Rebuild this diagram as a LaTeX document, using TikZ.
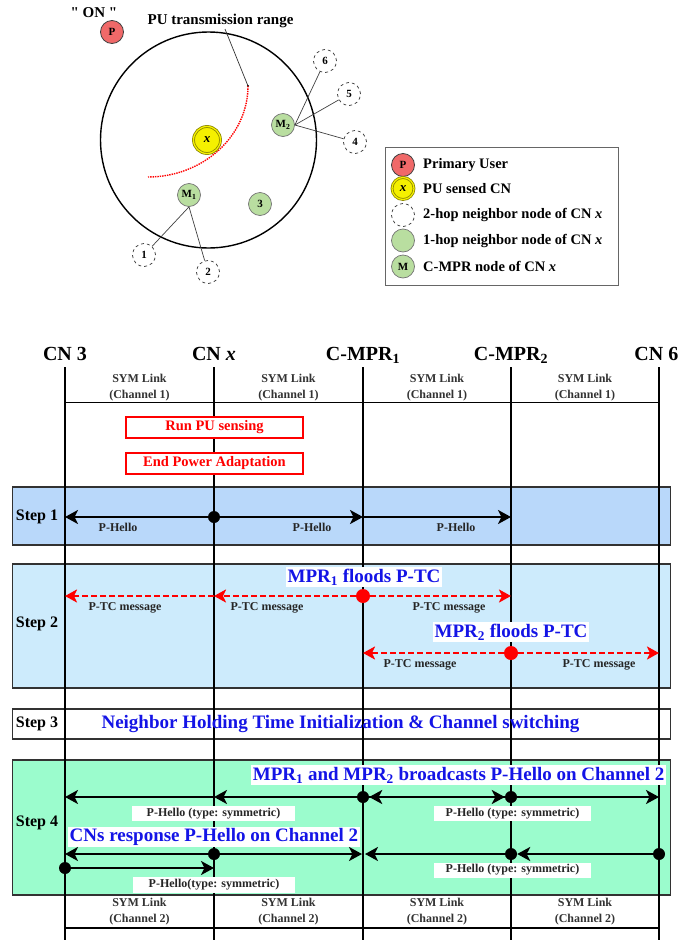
\documentclass[tikz,border=0pt]{standalone}
\usepackage{fontspec}
\setmainfont{Liberation Serif}
\newfontfamily\rawserif[Ligatures=TeXOff]{Liberation Serif}
\usetikzlibrary{arrows.meta}
\definecolor{pured}{RGB}{240,105,105}
\definecolor{puyel}{RGB}{245,240,0}
\definecolor{puolive}{RGB}{140,135,0}
\definecolor{nbgreen}{RGB}{185,222,160}
\definecolor{stepa}{RGB}{185,216,250}
\definecolor{stepb}{RGB}{205,235,252}
\definecolor{stepd}{RGB}{155,252,205}
\definecolor{txtblue}{RGB}{20,20,230}
\definecolor{boxgray}{RGB}{50,50,50}
\tikzset{
  lbl/.style={font=\fontsize{#1}{#1}\selectfont\bfseries, inner sep=0pt},
  pnode/.style={circle, draw=black!75, line width=0.8pt, fill=pured, minimum size=23pt, inner sep=0pt, lbl=11},
  xnode/.style={circle, draw=puolive, double=puyel, double distance=1.2pt, line width=0.8pt, fill=puyel, minimum size=27pt, inner sep=0pt, font=\fontsize{13}{13}\selectfont\bfseries\itshape},
  gnode/.style={circle, draw=black!55, line width=0.7pt, fill=nbgreen, minimum size=23pt, inner sep=0pt, lbl=11},
  hnode/.style={circle, draw=black!80, dashed, line width=0.7pt, fill=white, minimum size=23pt, inner sep=0pt, lbl=11},
  edge/.style={draw=black!75, line width=0.7pt},
  legtxt/.style={lbl=14.5, anchor=west},
  hdr/.style={lbl=20, anchor=base},
  symtxt/.style={font=\fontsize{12}{16}\selectfont\bfseries, align=center, text=black!80, inner sep=0pt},
  redbox/.style={draw=red, line width=1.2pt, fill=white, minimum width=177pt, minimum height=21pt, text=red, lbl=14.5},
  stepbox/.style={draw=boxgray, line width=1.3pt, minimum width=658pt, inner sep=0pt},
  steptxt/.style={lbl=16},
  life/.style={draw=black, line width=1.2pt},
  msg/.style={lbl=12, text=black!85},
  bluetxt/.style={lbl=19, text=txtblue, fill=white, inner sep=1.5pt},
  wlbl/.style={lbl=12, text=black!85, fill=white, minimum height=15pt},
  bdot/.style={circle, fill=black, minimum size=12pt, inner sep=0pt},
  rdot/.style={circle, fill=red, minimum size=14pt, inner sep=0pt},
  harrow/.style={draw=black, line width=2.7pt, -{Stealth[length=13pt,width=14pt,inset=3.5pt]}},
  rarrow/.style={draw=red, line width=2.4pt, dash pattern=on 6pt off 3pt, -{Stealth[length=12pt,width=13pt,inset=3pt]}},
}
\begin{document}
\begin{tikzpicture}[x=1pt,y=-1pt]
\useasboundingbox (0,0) rectangle (679,940);
% ---------------- top scene ----------------
\node[circle, draw=black, line width=1.4pt, minimum size=216pt, inner sep=0pt] (range) at (208.5,140) {};
\node[lbl=15, font=\fontsize{15}{15}\selectfont\rawserif\bfseries] (on) at (94,13) {" ON "};
\node[pnode] (P) at (112,32) {P};
\node[lbl=15] (pulbl) at (220.5,21) {PU transmission range};
\coordinate (pulblA) at (225,29);
\coordinate (arcS) at (248,86);
\coordinate (arcE) at (148,177);
\draw[black!80, line width=0.7pt] (pulblA) -- (arcS);
\fill (arcS) circle (1.2pt);
\draw[red, densely dotted, line width=1.4pt] (arcS) .. controls (248,136) and (203,177) .. (arcE);
\node[xnode] (X) at (207,140) {x};
\node[gnode] (M2) at (283,125) {M\textsubscript{2}};
\node[gnode] (M1) at (189,195) {M\textsubscript{1}};
\node[gnode] (n3) at (260,204) {3};
\node[hnode] (n6) at (325,61) {6};
\node[hnode] (n5) at (349,94) {5};
\node[hnode] (n4) at (355,142) {4};
\node[hnode] (n1) at (144,255) {1};
\node[hnode] (n2) at (208,272) {2};
\draw[edge] (M2.east) -- (n6);
\draw[edge] (M2.east) -- (n5);
\draw[edge] (M2.east) -- (n4);
\draw[edge] (M1.south) -- (n1);
\draw[edge] (M1.south) -- (n2);
% legend
\node[draw=black!60, line width=1pt, minimum width=233pt, minimum height=138pt, inner sep=0pt] (leg) at (501.5,216) {};
\node[pnode] (lP) at (403,165) {P};
\node[xnode, minimum size=22pt] (lX) at (403,188.5) {x};
\node[hnode] (lH) at (403,215) {};
\node[gnode] (lG) at (403,240.5) {};
\node[gnode] (lM) at (403,266.5) {M};
\node[legtxt] (tP) at (423,165) {Primary User};
\node[legtxt] (tX) at (423,188.5) {PU sensed CN};
\node[legtxt] (tH) at (423,215) {2-hop neighbor node of CN \textit{x}};
\node[legtxt] (tG) at (423,240.5) {1-hop neighbor node of CN \textit{x}};
\node[legtxt] (tM) at (423,266.5) {C-MPR node of CN \textit{x}};
% ---------------- step boxes ----------------
\node[stepbox, fill=stepa, minimum height=58pt] (s1) at (341.7,516) {};
\node[stepbox, fill=stepb, minimum height=124pt] (s2) at (341.7,626) {};
\node[stepbox, fill=white, minimum height=30pt] (s3) at (341.7,724) {};
\node[stepbox, fill=stepd, minimum height=135pt] (s4) at (341.7,827.5) {};
% ---------------- lifelines ----------------
\coordinate (t1) at (65,367);  \coordinate (b1) at (65,940);
\coordinate (t2) at (214,367); \coordinate (b2) at (214,940);
\coordinate (t3) at (363,367); \coordinate (b3) at (363,940);
\coordinate (t4) at (511,367); \coordinate (b4) at (511,940);
\coordinate (t5) at (659,367); \coordinate (b5) at (659,940);
\foreach \i in {1,...,5} { \draw[life] (t\i) -- (b\i); }
\coordinate (hl1) at (65,402.7); \coordinate (hl5) at (659,402.7);
\draw[life] (hl1) -- (hl5);
\coordinate (bl1) at (65,928); \coordinate (bl5) at (659,928);
\draw[life] (bl1) -- (bl5);
% headers
\node[hdr] (h1) at (65,360) {CN 3};
\node[hdr] (h2) at (214,360) {CN \textit{x}};
\node[hdr] (h3) at (363,360) {C-MPR\textsubscript{1}};
\node[hdr] (h4) at (511,360) {C-MPR\textsubscript{2}};
\node[hdr, anchor=base east] (h5) at (678.5,360) {CN 6};
\node[symtxt] (sa1) at (139.5,388) {SYM Link\\(Channel 1)};
\node[symtxt] (sa2) at (288.5,388) {SYM Link\\(Channel 1)};
\node[symtxt] (sa3) at (437,388) {SYM Link\\(Channel 1)};
\node[symtxt] (sa4) at (585,388) {SYM Link\\(Channel 1)};
\node[symtxt] (sb1) at (139.5,912) {SYM Link\\(Channel 2)};
\node[symtxt] (sb2) at (288.5,912) {SYM Link\\(Channel 2)};
\node[symtxt] (sb3) at (437,912) {SYM Link\\(Channel 2)};
\node[symtxt] (sb4) at (585,912) {SYM Link\\(Channel 2)};
% red boxes
\node[redbox] (run) at (214.5,427.5) {Run PU sensing};
\node[redbox] (endp) at (214.5,463.5) {End Power Adaptation};
% ---------------- Step 1 ----------------
\node[steptxt] (st1) at (37,517) {Step 1};
\node[bdot] (d1) at (214,517) {};
\coordinate (a1l) at (65,517);
\coordinate (a1m) at (363,517);
\coordinate (a1r) at (511,517);
\draw[harrow] (d1) -- (a1l);
\draw[harrow] (d1) -- (a1m);
\draw[harrow] (a1m) -- (a1r);
\node[msg] (ph1) at (118,527) {P-Hello};
\node[msg] (ph2) at (312,527) {P-Hello};
\node[msg] (ph3) at (456,527) {P-Hello};
% ---------------- Step 2 ----------------
\node[steptxt] (st2) at (37,624) {Step 2};
\node[rdot] (r1) at (363,596) {};
\coordinate (r1a) at (214,596);
\coordinate (r1b) at (65,596);
\coordinate (r1c) at (511,596);
\draw[rarrow] (r1) -- (r1a);
\draw[rarrow] (r1a) -- (r1b);
\draw[rarrow] (r1) -- (r1c);
\node[bluetxt] (f1) at (364,577) {MPR\textsubscript{1} floods P-TC};
\node[msg] (pt1) at (125,608) {P-TC message};
\node[msg] (pt2) at (267,608) {P-TC message};
\node[msg] (pt3) at (449,608) {P-TC message};
\node[rdot] (r2) at (511,653) {};
\coordinate (r2a) at (363,653);
\coordinate (r2b) at (659,653);
\draw[rarrow] (r2) -- (r2a);
\draw[rarrow] (r2) -- (r2b);
\node[bluetxt] (f2) at (511,632) {MPR\textsubscript{2} floods P-TC};
\node[msg] (pt4) at (420,665) {P-TC message};
\node[msg] (pt5) at (599,665) {P-TC message};
% ---------------- Step 3 ----------------
\node[steptxt] (st3) at (37,724) {Step 3};
\node[lbl=19, text=txtblue] (nh) at (340.5,724) {Neighbor Holding Time Initialization \& Channel switching};
% ---------------- Step 4 ----------------
\node[steptxt] (st4) at (37,823) {Step 4};
\node[bluetxt, anchor=east] (bc) at (666,775) {MPR\textsubscript{1} and MPR\textsubscript{2} broadcasts P-Hello on Channel 2};
\node[bdot] (q3) at (363,797) {};
\node[bdot] (q4) at (511,797) {};
\coordinate (q2) at (214,797);
\coordinate (q1) at (65,797);
\coordinate (q5) at (659,797);
\draw[harrow] (q3) -- (q2);
\draw[harrow] (q2) -- (q1);
\draw[harrow] (q4) -- (q3);
\draw[harrow] (q3) -- (q4);
\draw[harrow] (q4) -- (q5);
\node[wlbl, minimum width=163pt] (ps1) at (213.5,813.5) {P-Hello (type: symmetric)};
\node[wlbl, minimum width=157pt] (ps2) at (512.5,813.5) {P-Hello (type: symmetric)};
\node[bluetxt, anchor=west] (cr) at (68,837) {CNs response P-Hello on Channel 2};
\node[bdot] (w2) at (214,854) {};
\node[bdot] (w4) at (511,854) {};
\node[bdot] (w5) at (659,854) {};
\coordinate (w1) at (65,854);
\coordinate (w3l) at (362,854);
\coordinate (w3r) at (365,854);
\draw[harrow] (w2) -- (w1);
\draw[harrow] (w2) -- (w3l);
\draw[harrow] (w5) -- (w4);
\draw[harrow] (w4) -- (w3r);
\node[bdot] (v1) at (65,868) {};
\coordinate (v2) at (214,868);
\draw[harrow] (v1) -- (v2);
\node[wlbl, minimum width=157pt] (ps3) at (512.5,870) {P-Hello (type: symmetric)};
\node[wlbl, minimum width=162pt, minimum height=16pt] (ps4) at (214,885) {P-Hello(type: symmetric)};
\end{tikzpicture}
\end{document}
